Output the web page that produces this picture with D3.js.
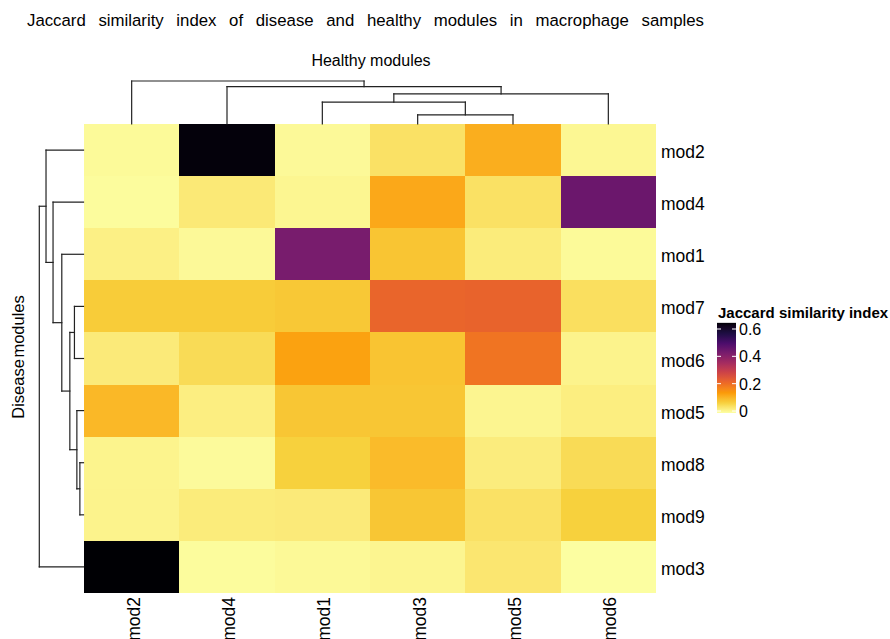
<!DOCTYPE html>
<html>
<head>
<meta charset="utf-8">
<script src="https://cdn.jsdelivr.net/npm/d3@7"></script>
<style>
  html, body { margin: 0; padding: 0; background: #fff; }
  svg { display: block; font-family: "Liberation Sans", Arial, sans-serif; }
</style>
</head>
<body>
<svg id="chart" width="890" height="639"></svg>
<script>
// Healthy modules (columns) and disease modules (rows), in dendrogram order
const colLabels = ["mod2", "mod4", "mod1", "mod3", "mod5", "mod6"];
const rowLabels = ["mod2", "mod4", "mod1", "mod7", "mod6", "mod5", "mod8", "mod9", "mod3"];

// Jaccard similarity index, one array per disease module (row)
const jMod2 = [0.008, 0.640, 0.009, 0.046, 0.119, 0.013];
const jMod4 = [0.005, 0.034, 0.014, 0.126, 0.047, 0.451];
const jMod1 = [0.023, 0.009, 0.430, 0.088, 0.030, 0.008];
const jMod7 = [0.079, 0.079, 0.084, 0.224, 0.227, 0.050];
const jMod6 = [0.032, 0.056, 0.135, 0.089, 0.200, 0.018];
const jMod5 = [0.106, 0.026, 0.086, 0.086, 0.015, 0.027];
const jMod8 = [0.017, 0.007, 0.072, 0.102, 0.029, 0.056];
const jMod9 = [0.018, 0.030, 0.032, 0.086, 0.046, 0.072];
const jMod3 = [0.645, 0.005, 0.010, 0.015, 0.038, 0.002];
const values = [jMod2, jMod4, jMod1, jMod7, jMod6, jMod5, jMod8, jMod9, jMod3];

// hclust-style merges: negative = leaf (1-based index in label order), positive = earlier step
const colMerge = [[-4, -5], [-3, 1], [2, -6], [-2, 3], [-1, 4]];
const colHeights = [0.21, 0.51, 0.70, 0.87, 1.0];
const rowMerge = [[-7, -8], [-6, 1], [-4, -5], [3, 2], [-3, 4], [-2, 5], [-1, 6], [7, -9]];
const rowHeights = [0.082, 0.15, 0.205, 0.309, 0.491, 0.689, 0.848, 1.0];

const legendTicks = [0, 0.2, 0.4, 0.6];
const colorMax = 0.645;

const svg = d3.select("#chart");

const heat = { x0: 84, x1: 656, y0: 124, y1: 593 };

const x = d3.scaleBand().domain(colLabels).range([heat.x0, heat.x1]);
const y = d3.scaleBand().domain(rowLabels).range([heat.y0, heat.y1]);

// Ten inferno colours (light to dark) spread evenly over the value range, blended in Lab
const palette = d3.quantize(d3.interpolateInferno, 10).reverse();
const color = d3.scaleLinear()
  .domain(d3.range(10).map(i => i * colorMax / 9))
  .range(palette)
  .interpolate(d3.interpolateLab)
  .clamp(true);

// Title and axis titles
svg.append("text")
  .attr("x", 27).attr("y", 26)
  .attr("font-size", 16.8)
  .attr("word-spacing", 8)
  .attr("fill", "#000")
  .text("Jaccard similarity index of disease and healthy modules in macrophage samples");

svg.append("text")
  .attr("x", 371).attr("y", 66)
  .attr("text-anchor", "middle")
  .attr("font-size", 16)
  .attr("fill", "#000")
  .text("Healthy modules");

svg.append("text")
  .attr("transform", "translate(24,357) rotate(-90)")
  .attr("text-anchor", "middle")
  .attr("font-size", 16.5)
  .attr("word-spacing", -3)
  .attr("fill", "#000")
  .text("Disease modules");

// Heatmap cells
const cells = [];
values.forEach((row, i) => row.forEach((v, j) => cells.push({ r: rowLabels[i], c: colLabels[j], v })));
svg.append("g").selectAll("rect")
  .data(cells)
  .join("rect")
  .attr("x", d => x(d.c))
  .attr("y", d => y(d.r))
  .attr("width", x.bandwidth())
  .attr("height", y.bandwidth())
  .attr("fill", d => color(d.v))
  .attr("shape-rendering", "crispEdges");

// Row labels
svg.append("g").selectAll("text")
  .data(rowLabels)
  .join("text")
  .attr("x", heat.x1 + 5)
  .attr("y", d => y(d) + y.bandwidth() / 2 + 8)
  .attr("font-size", 17.5)
  .attr("fill", "#000")
  .text(d => d);

// Column labels (rotated)
svg.append("g").selectAll("text")
  .data(colLabels)
  .join("text")
  .attr("transform", d => `translate(${x(d) + x.bandwidth() / 2 + 8},${heat.y1 + 4}) rotate(-90)`)
  .attr("text-anchor", "end")
  .attr("font-size", 17.5)
  .attr("fill", "#000")
  .text(d => d);

// Dendrograms built from the merge tables
function dendroSegments(merge, heights, leafPos) {
  const nodes = merge.map(() => null);
  const getNode = k => k < 0 ? { pos: leafPos(-k - 1), h: 0 } : nodes[k - 1];
  const segs = [];
  merge.forEach((pair, i) => {
    const a = getNode(pair[0]), b = getNode(pair[1]);
    const h = heights[i];
    segs.push([a.pos, a.h, a.pos, h]);
    segs.push([b.pos, b.h, b.pos, h]);
    segs.push([a.pos, h, b.pos, h]);
    nodes[i] = { pos: (a.pos + b.pos) / 2, h };
  });
  return segs;
}

const colTreeY = d3.scaleLinear().domain([0, 1]).range([heat.y0, 81]);
const colSegs = dendroSegments(colMerge, colHeights, i => x(colLabels[i]) + x.bandwidth() / 2);
svg.append("g").selectAll("line")
  .data(colSegs)
  .join("line")
  .attr("x1", d => d[0]).attr("y1", d => colTreeY(d[1]))
  .attr("x2", d => d[2]).attr("y2", d => colTreeY(d[3]))
  .attr("stroke", "#222").attr("stroke-width", 1.2)
  .attr("stroke-linecap", "square");

const rowTreeX = d3.scaleLinear().domain([0, 1]).range([heat.x0 - 0.5, 39.3]);
const rowSegs = dendroSegments(rowMerge, rowHeights, i => y(rowLabels[i]) + y.bandwidth() / 2);
svg.append("g").selectAll("line")
  .data(rowSegs)
  .join("line")
  .attr("x1", d => rowTreeX(d[1])).attr("y1", d => d[0])
  .attr("x2", d => rowTreeX(d[3])).attr("y2", d => d[2])
  .attr("stroke", "#222").attr("stroke-width", 1.2)
  .attr("stroke-linecap", "square");

// Colour legend
const lg = { x: 717, w: 19 };
const ly = d3.scaleLinear().domain([0, 0.6]).range([411, 329]);
const defs = svg.append("defs");
const grad = defs.append("linearGradient")
  .attr("id", "jaccardGrad")
  .attr("x1", 0).attr("y1", 1).attr("x2", 0).attr("y2", 0);
d3.range(0, 1.0001, 0.025).forEach(t => {
  grad.append("stop").attr("offset", t).attr("stop-color", color(t * colorMax));
});
svg.append("rect")
  .attr("x", lg.x).attr("y", ly(colorMax))
  .attr("width", lg.w).attr("height", ly(0) - ly(colorMax) + 2)
  .attr("fill", "url(#jaccardGrad)");

const lt = svg.append("g").selectAll("g").data(legendTicks).join("g");
lt.append("line")
  .attr("x1", lg.x).attr("x2", lg.x + 4)
  .attr("y1", d => ly(d)).attr("y2", d => ly(d))
  .attr("stroke", "#fff").attr("stroke-width", 1);
lt.append("line")
  .attr("x1", lg.x + lg.w - 4).attr("x2", lg.x + lg.w)
  .attr("y1", d => ly(d)).attr("y2", d => ly(d))
  .attr("stroke", "#fff").attr("stroke-width", 1);
lt.append("text")
  .attr("x", lg.x + lg.w + 3)
  .attr("y", d => ly(d) + 6)
  .attr("font-size", 16)
  .attr("fill", "#000")
  .text(d => d3.format("")(d));

svg.append("text")
  .attr("x", 718).attr("y", 318)
  .attr("font-size", 15)
  .attr("font-weight", "bold")
  .attr("fill", "#000")
  .text("Jaccard similarity index");
</script>
</body>
</html>
